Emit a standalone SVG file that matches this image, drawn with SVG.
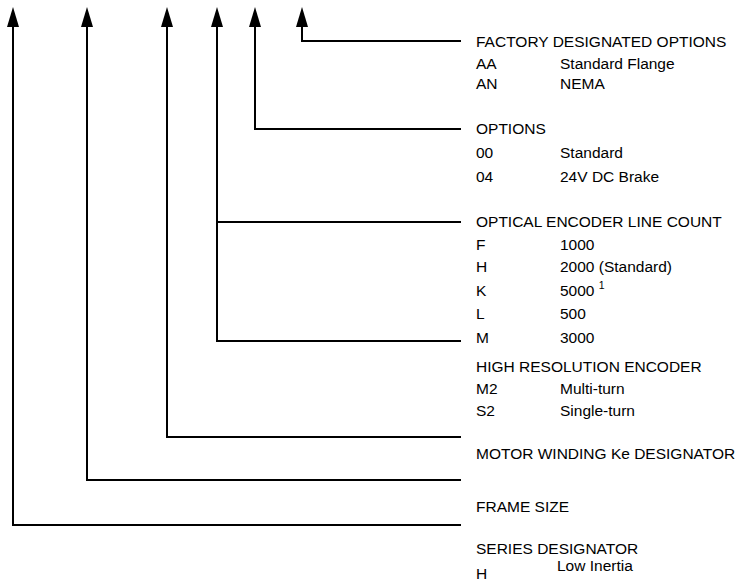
<svg xmlns="http://www.w3.org/2000/svg" width="744" height="583" viewBox="0 0 744 583">
<style>
.c{fill:none;stroke:#000;stroke-width:2}
.t{font-family:"Liberation Sans",Arial,sans-serif;font-size:15.5px;fill:#000}
.s{font-size:10.5px}
</style>
<rect width="744" height="583" fill="#fff"/>
<g id="connectors">
<path class="c" d="M302 26 V41 H461" />
<path class="c" d="M255 26 V129 H461" />
<path class="c" d="M217 26 V341 H461 M217 222 H461" />
<path class="c" d="M167 26 V437 H461" />
<path class="c" d="M87 26 V480 H461" />
<path class="c" d="M13 26 V525 H461" />
<g fill="#000">
<path d="M302 7 L308 27 L296 27 Z"/>
<path d="M255 7 L261 27 L249 27 Z"/>
<path d="M217 7 L223 27 L211 27 Z"/>
<path d="M167 7 L173 27 L161 27 Z"/>
<path d="M87 7 L93 27 L81 27 Z"/>
<path d="M13 7 L19 27 L7 27 Z"/>
</g>
</g>
<g id="factory" class="t">
<text x="476" y="47">FACTORY DESIGNATED OPTIONS</text>
<text x="476" y="69">AA</text><text x="560" y="69">Standard Flange</text>
<text x="476" y="89">AN</text><text x="560" y="89">NEMA</text>
</g>
<g id="options" class="t">
<text x="476" y="134">OPTIONS</text>
<text x="476" y="158">00</text><text x="560" y="158">Standard</text>
<text x="476" y="182">04</text><text x="560" y="182">24V DC Brake</text>
</g>
<g id="encoder" class="t">
<text x="476" y="227">OPTICAL ENCODER LINE COUNT</text>
<text x="476" y="250">F</text><text x="560" y="250">1000</text>
<text x="476" y="272">H</text><text x="560" y="272">2000 (Standard)</text>
<text x="476" y="296">K</text><text x="560" y="296">5000 <tspan class="s" dy="-7">1</tspan></text>
<text x="476" y="319">L</text><text x="560" y="319">500</text>
<text x="476" y="343">M</text><text x="560" y="343">3000</text>
</g>
<g id="hires" class="t">
<text x="476" y="372">HIGH RESOLUTION ENCODER</text>
<text x="476" y="394">M2</text><text x="560" y="394">Multi-turn</text>
<text x="476" y="416">S2</text><text x="560" y="416">Single-turn</text>
</g>
<g id="winding" class="t">
<text x="476" y="459">MOTOR WINDING Ke DESIGNATOR</text>
</g>
<g id="frame" class="t">
<text x="476" y="512">FRAME SIZE</text>
</g>
<g id="series" class="t">
<text x="476" y="554">SERIES DESIGNATOR</text>
<text x="557" y="571">Low Inertia</text>
<text x="476" y="579">H</text>
</g>
</svg>
